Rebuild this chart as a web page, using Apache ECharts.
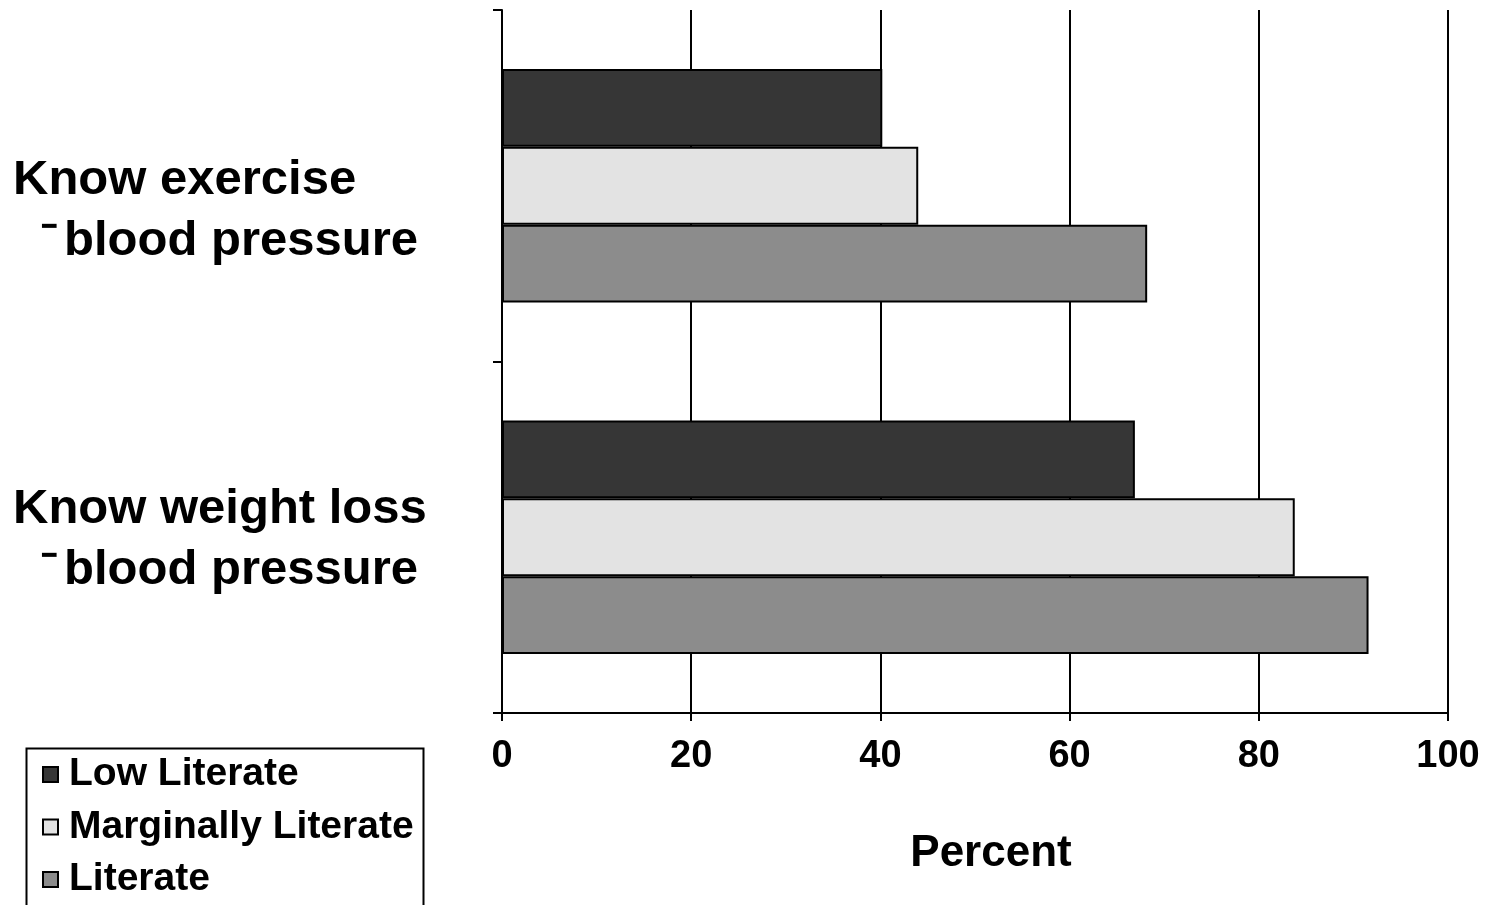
<!DOCTYPE html>
<html>
<head>
<meta charset="utf-8">
<script src="https://cdn.jsdelivr.net/npm/echarts@6/dist/echarts.min.js"></script>
<style>
  html, body { margin: 0; padding: 0; background: #fff; }
  #chart { width: 1486px; height: 905px; }
</style>
</head>
<body>
<div id="chart"></div>
<script>
// Categories, top to bottom
const categories = ['Know exercise', 'Know weight loss'];
const subLine = 'blood pressure';
// Series names and bar fills
const seriesNames = ['Low Literate', 'Marginally Literate', 'Literate'];
const seriesColors = ['#363636', '#e3e3e3', '#8c8c8c'];
// Percent values per category
const lowLiterate = [40.2, 66.9];
const marginallyLiterate = [44.0, 83.8];
const literate = [68.2, 91.6];
const xTicks = [0, 20, 40, 60, 80, 100];

const FONT = "'Liberation Sans', Arial, sans-serif";
const chart = echarts.init(document.getElementById('chart'), null, { renderer: 'canvas' });

const values = [lowLiterate, marginallyLiterate, literate];
const labelFont = { fontFamily: FONT, fontSize: 49, fontWeight: 'bold', color: '#000', lineHeight: 61 };

chart.setOption({
  backgroundColor: '#ffffff',
  animation: false,
  textStyle: { fontFamily: FONT },
  grid: { left: 502, right: 38, top: 10, bottom: 192, containLabel: false },
  // frame around the legend, running off the bottom edge
  graphic: [{
    type: 'rect',
    left: 24,
    top: 746,
    shape: { width: 397, height: 180 },
    style: { fill: 'none', stroke: '#000', lineWidth: 2 },
    silent: true,
    z: 10
  }],
  legend: {
    orient: 'vertical',
    left: 42,
    top: 755,
    data: seriesNames,
    icon: 'rect',
    itemWidth: 15,
    itemHeight: 15,
    itemGap: 13.5,
    padding: 0,
    textStyle: {
      fontFamily: FONT, fontSize: 39, fontWeight: 'bold', color: '#000',
      lineHeight: 39, padding: [0, 0, 0, 6]
    }
  },
  xAxis: {
    type: 'value',
    min: 0,
    max: 100,
    interval: 20,
    name: 'Percent',
    nameLocation: 'middle',
    nameGap: 119,
    nameTextStyle: {
      fontFamily: FONT, fontSize: 44, fontWeight: 'bold', color: '#000',
      padding: [0, 0, 0, 32]
    },
    axisLine: { show: true, lineStyle: { color: '#000', width: 2 } },
    axisTick: { show: true, length: 8, lineStyle: { color: '#000', width: 2 } },
    splitLine: { show: true, lineStyle: { color: '#000', width: 2 } },
    axisLabel: {
      margin: 25,
      fontFamily: FONT, fontSize: 38, fontWeight: 'bold', color: '#000',
      formatter: v => (xTicks.includes(v) ? String(v) : '')
    }
  },
  yAxis: {
    type: 'category',
    inverse: true,
    data: categories,
    axisLine: { show: true, lineStyle: { color: '#000', width: 2 } },
    axisTick: { show: true, length: 9, lineStyle: { color: '#000', width: 2 } },
    splitLine: { show: false },
    axisLabel: Object.assign({}, labelFont, {
      align: 'left',
      margin: 489,
      formatter: (v, i) => (i === 0 ? '{s| }' : '{u| }') +
        '\n{t|' + v + '}\n{d|⁻}{t|' + subLine + '}',
      rich: {
        t: labelFont,
        d: Object.assign({}, labelFont, { padding: [0, 6, 0, 28] }),
        s: { fontSize: 10, lineHeight: 50 },
        u: { fontSize: 10, lineHeight: 6 }
      }
    })
  },
  series: seriesNames.map((name, k) => ({
    name,
    type: 'bar',
    data: values[k],
    barGap: '0%',
    barCategoryGap: '33.5%',
    itemStyle: { color: seriesColors[k], borderColor: '#000', borderWidth: 2 }
  }))
});
</script>
</body>
</html>
